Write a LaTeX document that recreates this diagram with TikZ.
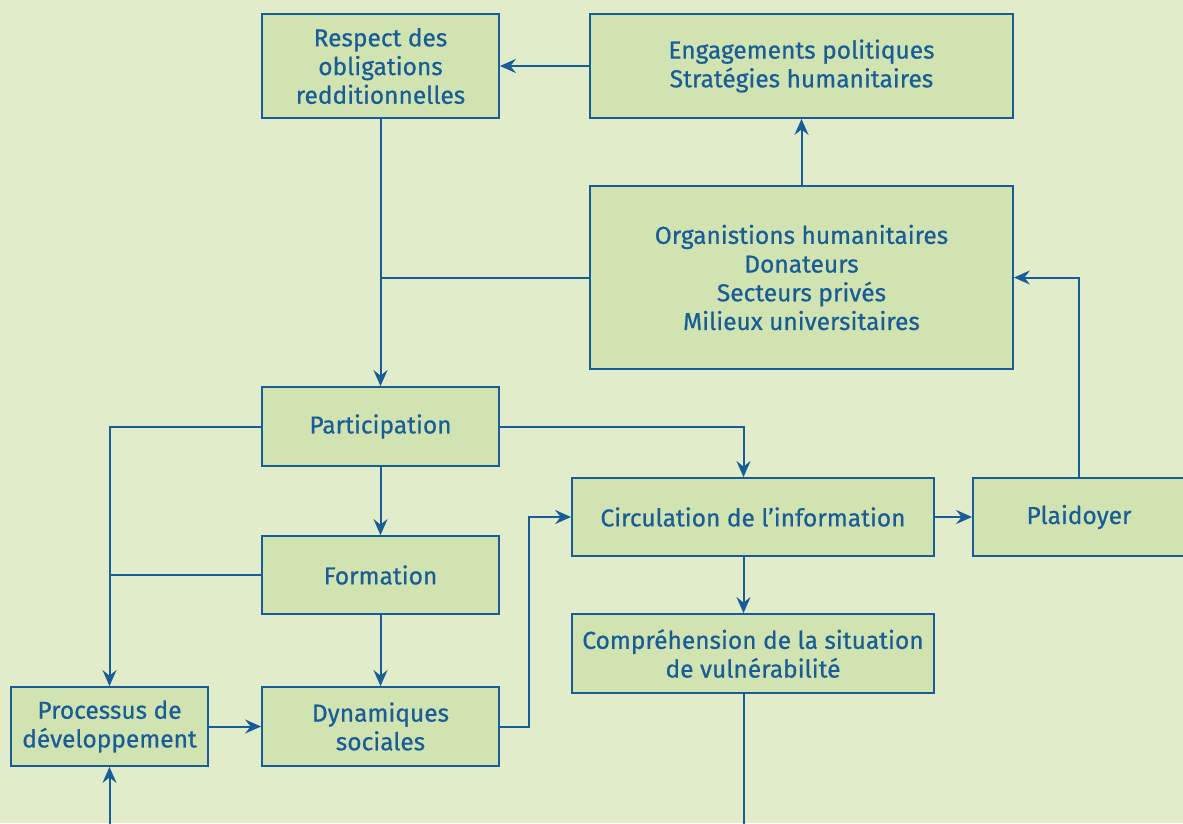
\documentclass[tikz,border=0pt]{standalone}
\usepackage{fontspec}
\setmainfont{Fira Sans}[FakeBold=0.6]
\usetikzlibrary{arrows.meta}
\definecolor{bg}{RGB}{224,236,202}
\definecolor{boxfill}{RGB}{208,227,176}
\definecolor{dblue}{RGB}{24,92,152}
\begin{document}
\begin{tikzpicture}[x=1pt,y=-1pt,
 box/.style={draw=dblue, fill=boxfill, line width=1.8pt, text=dblue, align=center, inner sep=0pt, font=\fontsize{24.5}{28.7}\selectfont},
 conn/.style={draw=dblue, line width=2pt},
 arr/.style={conn, -{Stealth[length=16pt,width=14pt,inset=5.5pt]}}]
\fill[bg] (0,0) rectangle (1183,823);
\useasboundingbox (0,0) rectangle (1183,823);
\clip (0,0) rectangle (1183,823);

\node[box, minimum width=237pt, minimum height=104pt] (resp) at (380.5,66) {Respect des\\obligations\\redditionnelles};
\node[box, minimum width=423pt, minimum height=104pt] (eng) at (801.5,66) {Engagements politiques\\Stratégies humanitaires};
\node[box, minimum width=423pt, minimum height=183pt] (org) at (801.5,277.5) {Organistions humanitaires\\Donateurs\\Secteurs privés\\Milieux universitaires};
\node[box, minimum width=237pt, minimum height=79pt] (part) at (380.5,426.5) {Participation};
\node[box, minimum width=237pt, minimum height=78pt] (form) at (380.5,575) {Formation};
\node[box, minimum width=197pt, minimum height=79pt] (proc) at (109.5,726.5) {Processus de\\développement};
\node[box, minimum width=237pt, minimum height=79pt] (dyn) at (380.5,726.5) {Dynamiques\\sociales};
\node[box, minimum width=362pt, minimum height=78pt] (circ) at (753,517) {Circulation de l’information};
\node[box, minimum width=212pt, minimum height=78pt] (plai) at (1079,517) {Plaidoyer};
\node[box, minimum width=362pt, minimum height=79pt] (comp) at (753,653.5) {Compréhension de la situation\\de vulnérabilité};

\coordinate (cb) at (743.5,830);
\coordinate (pb) at (109.5,830);

\draw[arr] (eng.west) -- (resp.east);
\draw[arr] (org.north) -- (eng.south);
\draw[arr] (resp.south) -- (part.north);
\draw[conn] (org.west) -- (org.west -| resp.south);
\draw[arr] (plai.north) |- (org.east);
\draw[arr] (part.west) -| (proc.north);
\draw[conn] (form.west) -- (form.west -| proc.north);
\draw[arr] (part.east) -| ([xshift=-9.5pt]circ.north);
\draw[arr] (part.south) -- (form.north);
\draw[arr] (form.south) -- (dyn.north);
\draw[arr] (proc.east) -- (dyn.west);
\draw[arr] (dyn.east) -- ++(29.5,0) |- (circ.west);
\draw[arr] (circ.east) -- (plai.west);
\draw[arr] ([xshift=-9.5pt]circ.south) -- ([xshift=-9.5pt]comp.north);
\draw[conn] ([xshift=-9.5pt]comp.south) -- (cb);
\draw[arr] (pb) -- (proc.south);
\end{tikzpicture}
\end{document}
